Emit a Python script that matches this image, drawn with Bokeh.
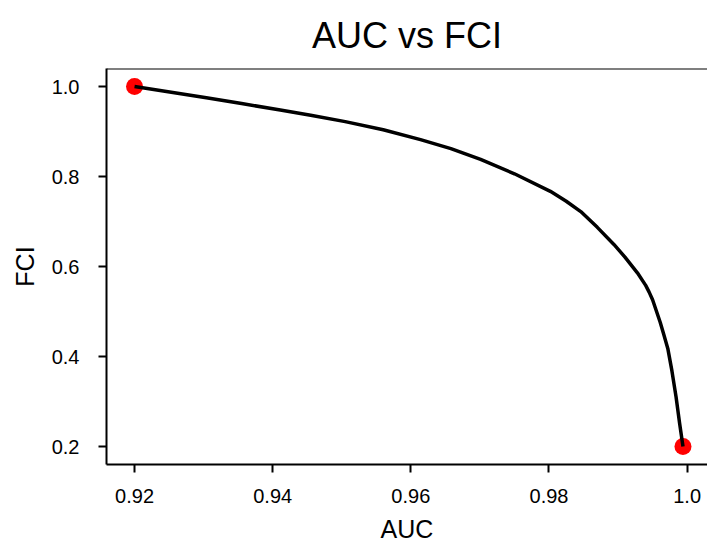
from bokeh.plotting import figure
from bokeh.models import FixedTicker, Span
from bokeh.embed import file_html
from bokeh.resources import INLINE

# curve values
auc = [0.92, 0.9304, 0.9355, 0.9411, 0.9455, 0.9505, 0.956, 0.9614, 0.9658, 0.9701,
       0.975, 0.9802, 0.9825, 0.9846, 0.987, 0.9894, 0.991, 0.9928, 0.994, 0.9945,
       0.995, 0.9961, 0.9966, 0.9972, 0.9978, 0.9984, 0.9989, 0.9994]
fci = [1.0, 0.975, 0.962, 0.948, 0.936, 0.922, 0.904, 0.882, 0.862, 0.838,
       0.806, 0.767, 0.745, 0.722, 0.687, 0.649, 0.621, 0.586, 0.558, 0.543,
       0.526, 0.476, 0.450, 0.418, 0.368, 0.310, 0.253, 0.2]
end_auc = [0.92, 0.9994]
end_fci = [1.0, 0.2]

x_ticks = [0.92, 0.94, 0.96, 0.98, 1.0]
x_tick_labels = ["0.92", "0.94", "0.96", "0.98", "1.0"]
y_ticks = [0.2, 0.4, 0.6, 0.8, 1.0]
y_tick_labels = ["0.2", "0.4", "0.6", "0.8", "1.0"]

FONT = "Liberation Sans"
x_lo, x_hi = 0.91594, 1.00295
y_lo, y_hi = 0.16, 1.04

p = figure(width=707, height=545, x_range=(x_lo, x_hi), y_range=(y_lo, y_hi),
           output_backend="svg", toolbar_location=None,
           min_border_left=106, min_border_right=0, min_border_top=65, min_border_bottom=81,
           title="AUC vs FCI")
p.outline_line_color = None
p.grid.visible = False
p.background_fill_color = "white"
p.border_fill_color = "white"

p.title.align = "center"
p.title.text_font = FONT
p.title.text_font_size = "36px"
p.title.text_font_style = "normal"
p.title.text_color = "black"
p.title.standoff = 25

p.scatter(end_auc, end_fci, size=17, color="red", line_color=None)
p.line(auc, fci, line_color="black", line_width=3.5, line_join="round")

top = Span(location=y_hi, dimension="width", line_color="black", line_width=2)
p.add_layout(top)

for ax, ticks, labels in ((p.xaxis[0], x_ticks, x_tick_labels), (p.yaxis[0], y_ticks, y_tick_labels)):
    ax.ticker = FixedTicker(ticks=ticks)
    ax.major_label_overrides = dict(zip(ticks, labels))
    ax.minor_tick_line_color = None
    ax.major_tick_in = 0
    ax.major_tick_out = 8
    ax.major_tick_line_width = 2
    ax.major_tick_line_color = "black"
    ax.axis_line_width = 2
    ax.axis_line_color = "black"
    ax.major_label_text_font = FONT
    ax.major_label_text_font_size = "20px"
    ax.major_label_text_color = "black"
    ax.axis_label_text_font = FONT
    ax.axis_label_text_font_size = "25px"
    ax.axis_label_text_font_style = "normal"
    ax.axis_label_text_color = "black"

p.xaxis.axis_label = "AUC"
p.yaxis.axis_label = "FCI"
p.xaxis.major_label_standoff = 16
p.yaxis.major_label_standoff = 19
p.xaxis.axis_label_standoff = 9
p.yaxis.axis_label_standoff = 10

open("out.html", "w").write(file_html(p, INLINE))
